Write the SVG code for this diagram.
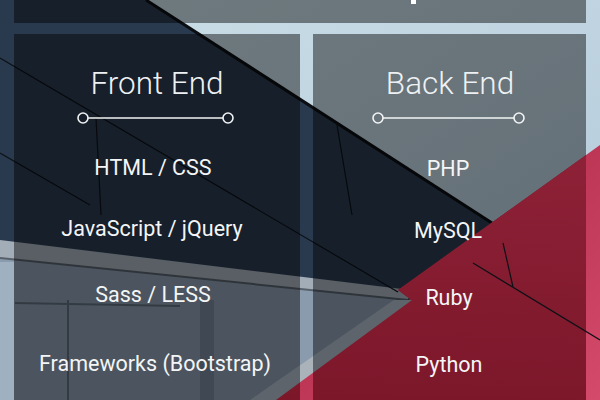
<svg xmlns="http://www.w3.org/2000/svg" width="600" height="400" viewBox="0 0 600 400">
<defs>
<style>
.title{font-family:Roboto,"Liberation Sans",sans-serif;font-weight:300;font-size:31.5px;fill:#eef1f3;text-anchor:middle}
.item{font-family:Roboto,"Liberation Sans",sans-serif;font-weight:400;font-size:21.5px;fill:#f4f5f6;text-anchor:middle}
.seam{stroke:#0d1117;stroke-width:1.2;fill:none}
.rule{stroke:#f2f4f5;stroke-width:1.6;fill:none}
.overlay{fill:#000;opacity:0.45}
</style>
<linearGradient id="sky" x1="0" y1="0" x2="1" y2="1">
<stop offset="0" stop-color="#c9dde6"/>
<stop offset="1" stop-color="#b6cbdb"/>
</linearGradient>
<linearGradient id="red" x1="0" y1="0" x2="1" y2="1">
<stop offset="0" stop-color="#a6233f"/>
<stop offset="1" stop-color="#d44a6b"/>
</linearGradient>
<linearGradient id="redIn" x1="0" y1="0" x2="0" y2="1">
<stop offset="0" stop-color="#902238"/>
<stop offset="1" stop-color="#7d1629"/>
</linearGradient>
<clipPath id="panels">
<rect x="14" y="0" width="572" height="23"/>
<rect x="14" y="34" width="286" height="366"/>
<rect x="313" y="34" width="273" height="366"/>
</clipPath>
</defs>

<g id="background">
<rect x="0" y="0" width="600" height="400" fill="#2a3a4e"/>
<polygon points="146,0 600,0 600,292" fill="url(#sky)"/>
<polygon points="0,250 406,297 250,400 0,400" fill="#8a9bad"/>
<rect x="0" y="262" width="14" height="138" fill="#9fb0c0"/>
<polygon points="0,240 410,290 408,300 0,258" fill="#a3adb7"/>
<line x1="0" y1="258" x2="408" y2="300" stroke="#56606b" stroke-width="2"/>
<line x1="146" y1="0" x2="492" y2="223" stroke="#0a0d11" stroke-width="3"/>
<polygon points="600,145 398,290 410,299 274,400 600,400" fill="url(#red)"/>
<polygon points="394,300 412,300 276,400 250,400" fill="#aab2ba"/>
<path class="seam" d="M0,58 L398,292 M0,153 L90,205 M96,118 L101,215 M337,125 L352,215 M473,263 L600,340 M503,243 L513,287"/>
<path d="M68,300 L68,400 M205,300 L205,400 M15,303 L180,306" stroke="#5e6b79" stroke-width="2" fill="none"/>
<rect x="200" y="300" width="14" height="100" fill="#758697"/>
</g>

<g id="panels">
<rect class="overlay" x="14" y="0" width="572" height="23"/>
<rect class="overlay" x="14" y="34" width="286" height="366"/>
<rect class="overlay" x="313" y="34" width="273" height="366"/>
<g clip-path="url(#panels)">
<polygon points="600,145 398,290 410,299 274,400 600,400" fill="url(#redIn)" opacity="0.95"/>
<polygon points="394,300 412,300 276,400 250,400" fill="#5d646b"/>
<path class="seam" d="M473,263 L600,340 M503,243 L513,287"/>
</g>
<rect x="411" y="0" width="5" height="4" fill="#ffffff"/>
</g>

<g id="front-end">
<text class="title" x="157" y="94">Front End</text>
<line class="rule" x1="88" y1="118" x2="223" y2="118"/>
<circle class="rule" cx="83" cy="118" r="5"/>
<circle class="rule" cx="228" cy="118" r="5"/>
<text class="item" x="153" y="175">HTML / CSS</text>
<text class="item" x="152" y="236">JavaScript / jQuery</text>
<text class="item" x="153" y="302">Sass / LESS</text>
<text class="item" x="155" y="371">Frameworks (Bootstrap)</text>
</g>

<g id="back-end">
<text class="title" x="450" y="94">Back End</text>
<line class="rule" x1="383" y1="118" x2="514" y2="118"/>
<circle class="rule" cx="378" cy="118" r="5"/>
<circle class="rule" cx="519" cy="118" r="5"/>
<text class="item" x="448" y="176">PHP</text>
<text class="item" x="448" y="238">MySQL</text>
<text class="item" x="449" y="305">Ruby</text>
<text class="item" x="449" y="372">Python</text>
</g>
<g id="connectors"/>
</svg>
